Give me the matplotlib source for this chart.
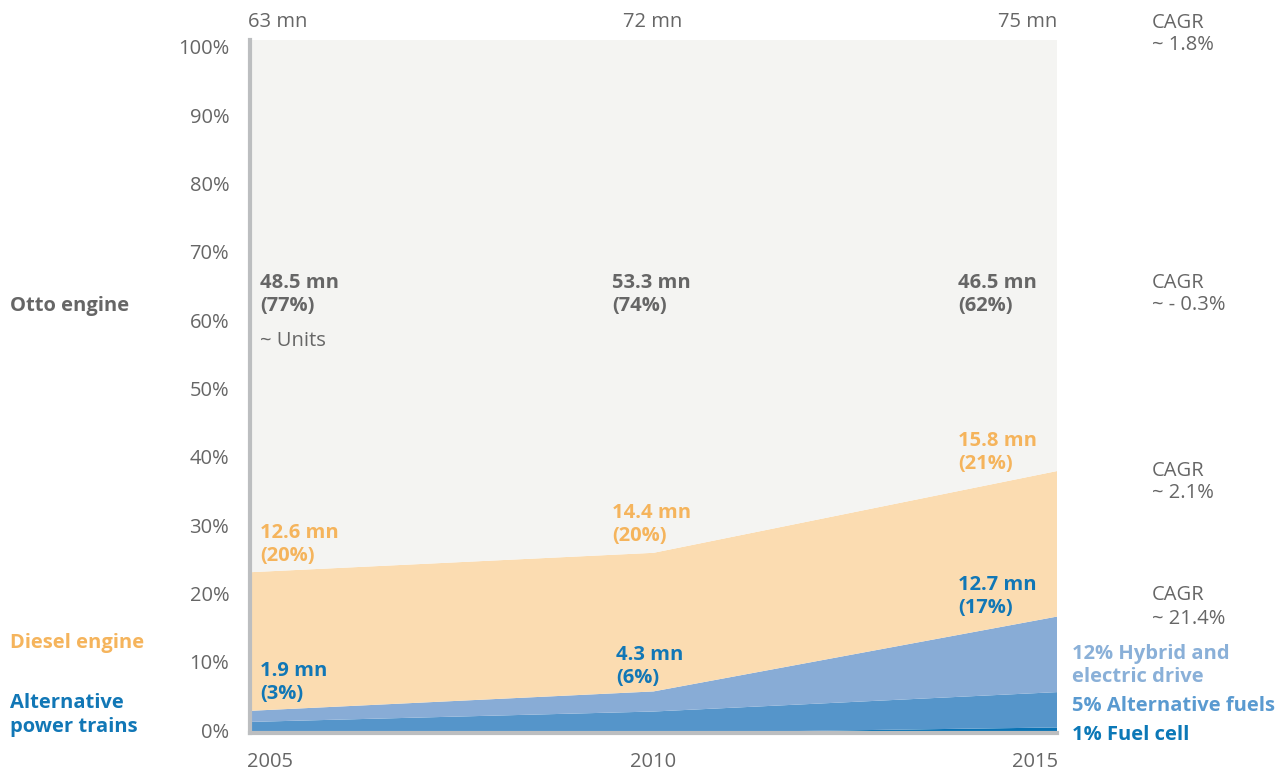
import matplotlib
matplotlib.use("Agg")
import matplotlib.pyplot as plt
import matplotlib.transforms as mtransforms
import numpy as np

# ---------------- data ----------------
years = [2005, 2010, 2015]
fuel_cell = [0.0, 0.0, 0.8]
alt_fuels = [1.6, 3.1, 5.1]
hybrid = [1.6, 2.9, 10.9]
diesel = [20.0, 20.0, 21.0]
totals_mn = ["63 mn", "72 mn", "75 mn"]
otto_labels = ["48.5 mn\n(77%)", "53.3 mn\n(74%)", "46.5 mn\n(62%)"]
diesel_labels = ["12.6 mn\n(20%)", "14.4 mn\n(20%)", "15.8 mn\n(21%)"]
alt_labels = ["1.9 mn\n(3%)", "4.3 mn\n(6%)", "12.7 mn\n(17%)"]
cagr_labels = ["CAGR\n~ 1.8%", "CAGR\n~ - 0.3%", "CAGR\n~ 2.1%", "CAGR\n~ 21.4%"]
y_ticks = [0, 10, 20, 30, 40, 50, 60, 70, 80, 90, 100]

plt.rcParams['font.family'] = ['Open Sans', 'DejaVu Sans']

W, H = 1277, 771
fig = plt.figure(figsize=(W / 100, H / 100), dpi=100)
ax = fig.add_axes([250 / W, (H - 733) / H, (1057 - 250) / W, (733 - 40) / H])

c_otto = "#f4f4f2"
c_diesel = "#fbdcb1"
c_hybrid = "#88acd6"
c_alt = "#5595ca"
c_fc = "#0a73b4"

otto = [100 - (a + b + c + d) for a, b, c, d in zip(fuel_cell, alt_fuels, hybrid, diesel)]
ax.stackplot(years, fuel_cell, alt_fuels, hybrid, diesel, otto,
             colors=[c_fc, c_alt, c_hybrid, c_diesel, c_otto], linewidth=0)

ax.set_xlim(2005, 2015)
ax.set_ylim(0, 100)
for s in ["top", "right"]:
    ax.spines[s].set_visible(False)
for s in ["left", "bottom"]:
    ax.spines[s].set_color("#bcbec0")
    ax.spines[s].set_linewidth(3)
ax.set_yticks(y_ticks)
ax.set_yticklabels([f"{t}%" for t in y_ticks])
ax.set_xticks([])
ax.tick_params(axis="y", length=0, pad=15, labelsize=14.5, labelcolor="#666666")
# the reference's tick labels sit on a slightly tighter grid than the plot area
for tick, v in zip(ax.yaxis.get_major_ticks(), y_ticks):
    off = mtransforms.ScaledTranslation(0, (3 - 0.1 * v) / 100, fig.dpi_scale_trans)
    tick.label1.set_transform(tick.label1.get_transform() + off)

def px(x, y):
    return x / W, 1 - y / H

grey = "#666666"
orange = "#f5b45c"
blue = "#1177b6"
FS = 14.5
LS = 1.2

def t(x, y, s, **kw):
    kw.setdefault("fontsize", FS)
    kw.setdefault("va", "center")
    kw.setdefault("linespacing", LS)
    fig.text(*px(x, y), s, **kw)

# top totals
t(248, 22, totals_mn[0], color=grey, ha="left")
t(653, 22, totals_mn[1], color=grey, ha="center")
t(1057, 22, totals_mn[2], color=grey, ha="right")
# x labels
t(247, 762, str(years[0]), color=grey, ha="left")
t(653, 762, str(years[1]), color=grey, ha="center")
t(1058, 762, str(years[2]), color=grey, ha="right")

# left category labels
t(10, 306, "Otto engine", color=grey, ha="left", fontweight="bold")
t(10, 643, "Diesel engine", color=orange, ha="left", fontweight="bold")
t(10, 715, "Alternative\npower trains", color=blue, ha="left", fontweight="bold",
  linespacing=1.25)

# inside labels
xs = [260, 612, 958]
for x, s, y in zip(xs, otto_labels, [294, 294, 294]):
    t(x, y, s, color=grey, ha="left", fontweight="bold")
t(260, 341, "~ Units", color=grey, ha="left")
for x, s, y in zip(xs, diesel_labels, [544, 525, 452]):
    t(x, y, s, color=orange, ha="left", fontweight="bold")
for x, s, y in zip([260, 616, 958], alt_labels, [683, 666, 596]):
    t(x, y, s, color=blue, ha="left", fontweight="bold")

# CAGR
for s, y in zip(cagr_labels, [34, 294, 482, 607]):
    t(1152, y, s, color=grey, ha="left")

# right legend labels
t(1072, 665, "12% Hybrid and\nelectric drive", color="#8ab0d8", ha="left",
  fontweight="bold")
t(1072, 706, "5% Alternative fuels", color="#5a9ad0", ha="left", fontweight="bold")
t(1072, 735, "1% Fuel cell", color="#0b78b7", ha="left", fontweight="bold")

fig.savefig("out.png", dpi=100)
